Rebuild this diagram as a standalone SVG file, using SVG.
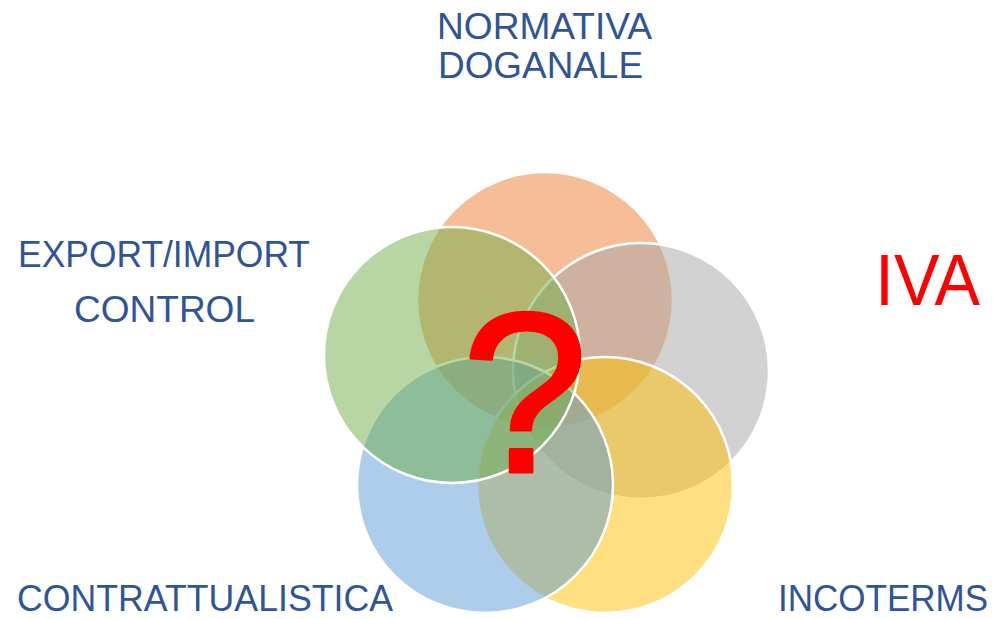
<svg xmlns="http://www.w3.org/2000/svg" width="994" height="619" viewBox="0 0 994 619">
<style>
.c{stroke:#FFFFFF;stroke-width:2.5;fill-opacity:0.5}
.lbl{font-family:"Liberation Sans",Arial,sans-serif;font-size:37px;fill:#2F5597}
</style>
<rect width="994" height="619" fill="#FFFFFF"/>
<g id="circles">
<g id="c-normativa"><circle class="c" cx="545" cy="300" r="128" fill="#ED7D31"/></g>
<g id="c-iva"><circle class="c" cx="641" cy="371" r="128" fill="#A5A5A5"/></g>
<g id="c-incoterms"><circle class="c" cx="605" cy="485" r="128" fill="#FFC000"/></g>
<g id="c-contratt"><circle class="c" cx="485" cy="485" r="128" fill="#5B9BD5"/></g>
<g id="c-export"><circle class="c" cx="452" cy="355" r="128" fill="#70AD47"/></g>
</g>
<g id="question"><text x="525" y="472" text-anchor="middle" font-family="Liberation Sans,Arial,sans-serif" font-size="228" fill="#FF0000" stroke="#FF0000" stroke-width="3" stroke-linejoin="round">?</text></g>
<g id="labels">
<g id="l-normativa">
<text class="lbl" x="437" y="39" textLength="215" lengthAdjust="spacingAndGlyphs">NORMATIVA</text>
<text class="lbl" x="438" y="78" textLength="205" lengthAdjust="spacingAndGlyphs">DOGANALE</text>
</g>
<g id="l-export">
<text class="lbl" x="18" y="267" textLength="292" lengthAdjust="spacingAndGlyphs">EXPORT/IMPORT</text>
<text class="lbl" x="74" y="322" textLength="181" lengthAdjust="spacingAndGlyphs">CONTROL</text>
</g>
<g id="l-iva"><text x="875" y="305" font-family="Liberation Sans,Arial,sans-serif" font-size="73" fill="#FF0000" textLength="105" lengthAdjust="spacingAndGlyphs">IVA</text></g>
<g id="l-contratt"><text class="lbl" x="17" y="611" textLength="376" lengthAdjust="spacingAndGlyphs">CONTRATTUALISTICA</text></g>
<g id="l-incoterms"><text class="lbl" x="988" y="611" text-anchor="end" font-size="36" textLength="210" lengthAdjust="spacingAndGlyphs" style="font-size:36px">INCOTERMS</text></g>
</g>
</svg>
